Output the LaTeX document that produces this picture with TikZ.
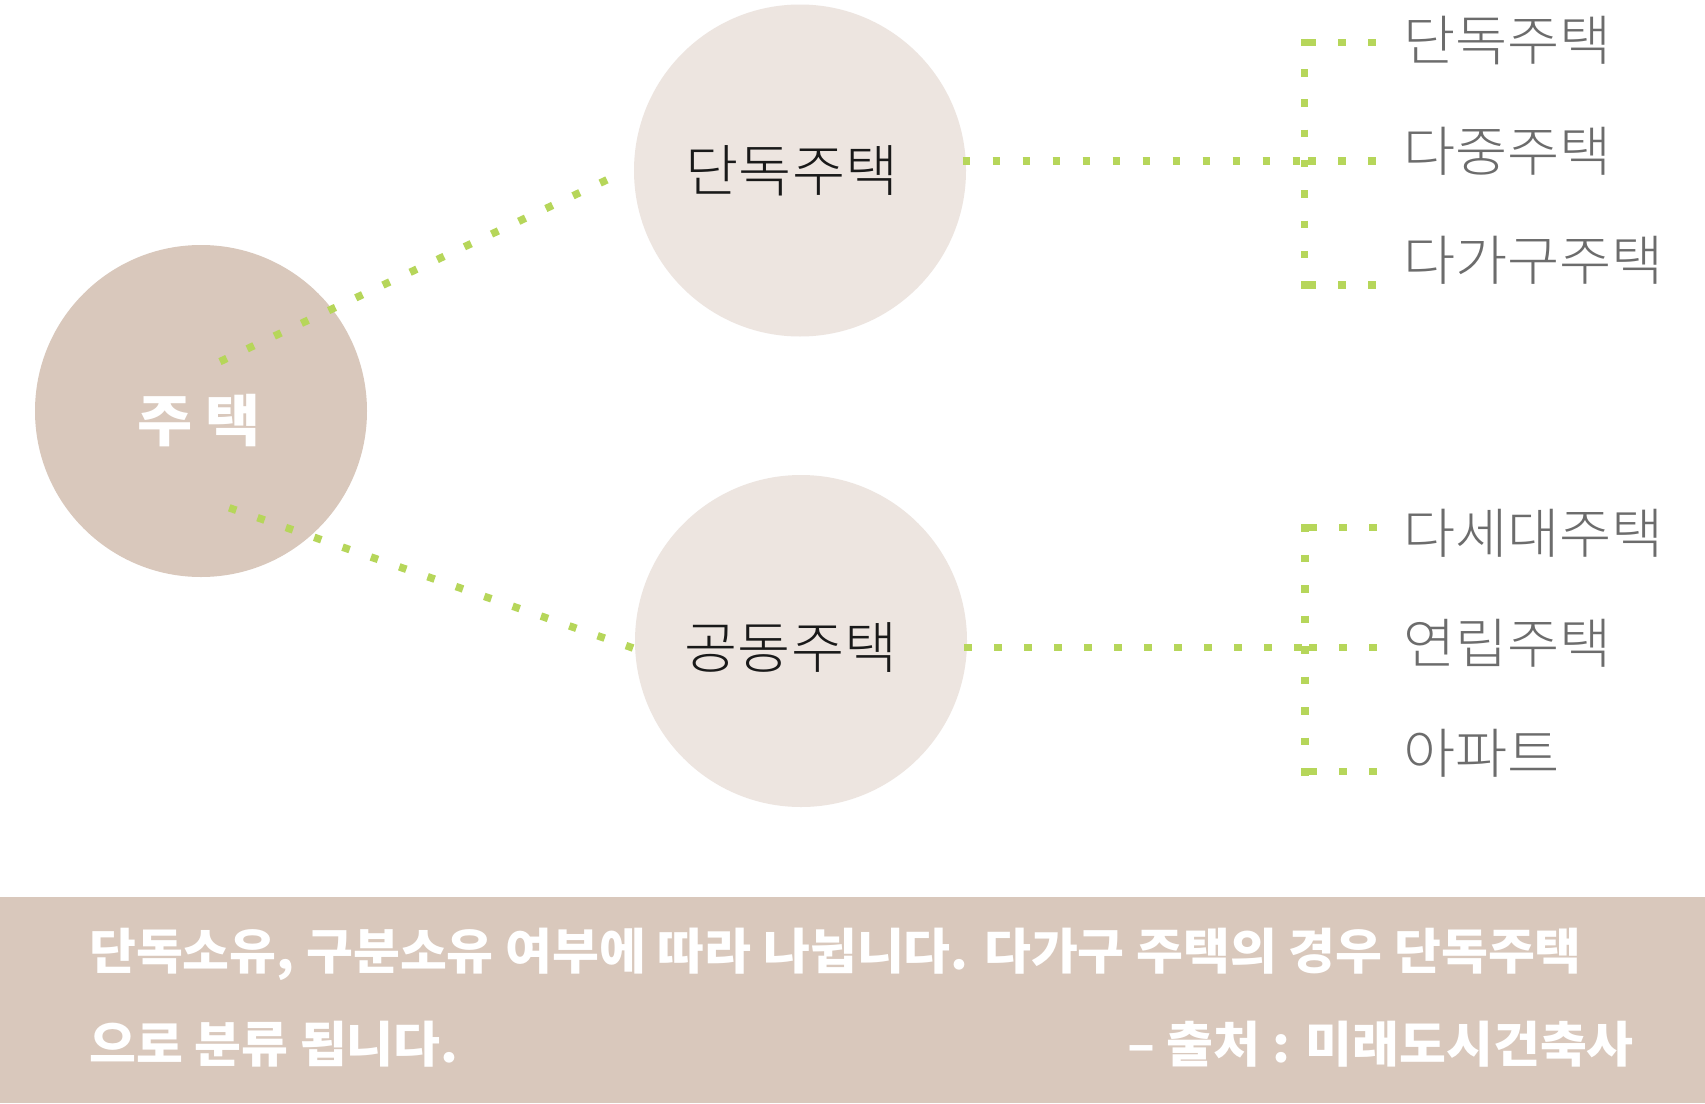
\documentclass[tikz,border=0pt]{standalone}
\usepackage{fontspec}
\newfontfamily\krlab{Noto Sans CJK KR Light}[FakeStretch=1.05]
\newfontfamily\krcirc{Noto Sans CJK KR Light}[FakeStretch=1.03]
\newfontfamily\krbold{Noto Sans CJK KR}[FakeStretch=1.04]
\newfontfamily\krmain{Noto Sans CJK KR}[FakeStretch=1.07]
\definecolor{dotgreen}{RGB}{182,214,90}
\definecolor{maincirc}{RGB}{217,200,188}
\definecolor{subcirc}{RGB}{237,229,224}
\definecolor{labelgray}{RGB}{108,108,108}
\definecolor{bannerbg}{RGB}{217,200,188}
\begin{document}
\begin{tikzpicture}[x=1pt,y=-1pt,
  bigcircle/.style={circle,minimum size=332pt,inner sep=0pt,draw=none},
  dotline/.style={draw=dotgreen,line width=7.5pt,line cap=butt,dash pattern=on 7.5pt off 22.5pt},
  dotlinev/.style={dotline,dash pattern=on 7.5pt off 22.8pt},
  circtext/.style={inner sep=0pt,font=\krcirc\fontsize{56pt}{60pt}\selectfont,text=black!90},
  leaflabel/.style={inner sep=0pt,anchor=west,font=\krlab\fontsize{54pt}{60pt}\selectfont,text=labelgray},
  bannertext/.style={inner sep=0pt,font=\krbold\bfseries\fontsize{49pt}{54pt}\selectfont,text=white}]
\useasboundingbox (0,0) rectangle (1705,1103);
\fill[white] (0,0) rectangle (1705,1103);

% circles
\node[bigcircle,fill=maincirc] (main) at (201,411) {};
\node[bigcircle,fill=subcirc] (c1) at (800,170.5) {};
\node[bigcircle,fill=subcirc] (c2) at (801,641) {};

% connector end points
\coordinate (m1) at (220,361.6);
\coordinate (e1) at (607.9,179.4);
\coordinate (m2) at (229.2,507.8);
\coordinate (e2) at (635,648.7);
\coordinate (h1s) at (962.5,161);
\coordinate (h1e) at (1300.5,161);
\coordinate (h2s) at (964.3,647.5);
\coordinate (h2e) at (1302,647.5);
% bracket top group
\coordinate (v1t) at (1304.5,38.75);
\coordinate (v1b) at (1304.5,289.5);
\coordinate (b1a) at (1308,42.5);   \coordinate (b1ae) at (1376,42.5);
\coordinate (b1b) at (1308,161);    \coordinate (b1be) at (1376,161);
\coordinate (b1c) at (1308,285.2);  \coordinate (b1ce) at (1376,285.2);
% bracket bottom group
\coordinate (v2t) at (1305,524);
\coordinate (v2b) at (1305,776);
\coordinate (b2a) at (1309,527.7);  \coordinate (b2ae) at (1377,527.7);
\coordinate (b2b) at (1309,647.5);  \coordinate (b2be) at (1377,647.5);
\coordinate (b2c) at (1309,771.7);  \coordinate (b2ce) at (1377,771.7);

% dotted connectors
\draw[dotline] (m1) -- (e1);
\draw[dotline] (m2) -- (e2);
\draw[dotline] (h1s) -- (h1e);
\draw[dotline] (h2s) -- (h2e);
\draw[dotlinev] (v1t) -- (v1b);
\draw[dotline,dash pattern=on 7.5pt off 23pt] (v2t) -- (v2b);
\draw[dotline] (b1a) -- (b1ae);
\draw[dotline] (b1b) -- (b1be);
\draw[dotline] (b1c) -- (b1ce);
\draw[dotline] (b2a) -- (b2ae);
\draw[dotline] (b2b) -- (b2be);
\draw[dotline] (b2c) -- (b2ce);

% circle texts
\node[inner sep=0pt,font=\krmain\bfseries\fontsize{56pt}{60pt}\selectfont,text=white] (tmain) at (199,421) {주 택};
\node[circtext] (t1) at (792,170.5) {단독주택};
\node[circtext] (t2) at (791,648) {공동주택};

% leaf labels
\node[leaflabel] (l1) at (1403,41) {단독주택};
\node[leaflabel] (l2) at (1403,151.5) {다중주택};
\node[leaflabel] (l3) at (1403,260.5) {다가구주택};
\node[leaflabel] (l4) at (1403,533.5) {다세대주택};
\node[leaflabel] (l5) at (1403,643) {연립주택};
\node[leaflabel] (l6) at (1403,753.5) {아파트};

% banner
\fill[bannerbg] (0,897) rectangle (1705,1103);
\node[bannertext,anchor=west] (n1) at (89,954) {단독소유, 구분소유 여부에 따라 나뉩니다. 다가구 주택의 경우 단독주택};
\node[bannertext,anchor=west] (n2) at (89,1043.7) {으로 분류 됩니다.};
\node[bannertext,anchor=east] (src) at (1634,1043.7) {– 출처 : 미래도시건축사};
\end{tikzpicture}
\end{document}
